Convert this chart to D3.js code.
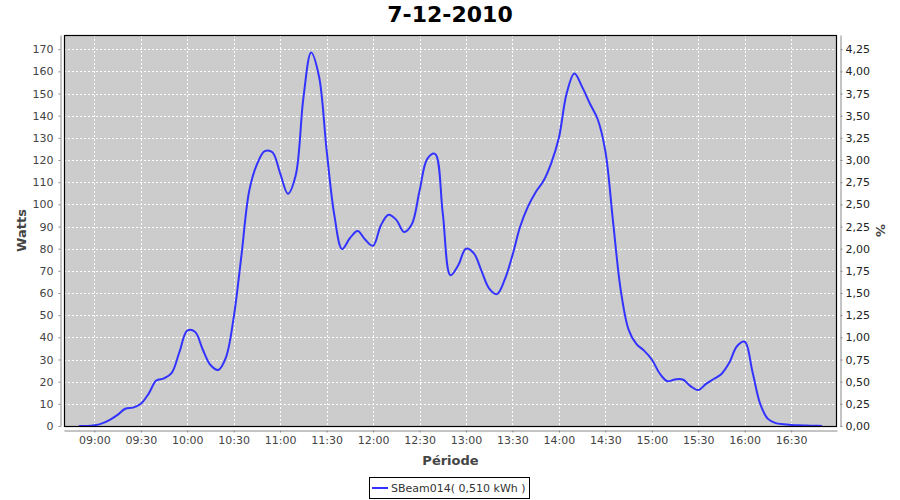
<!DOCTYPE html>
<html>
<head>
<meta charset="utf-8">
<script src="https://cdn.jsdelivr.net/npm/d3@7"></script>
<style>
  html, body { margin: 0; padding: 0; background: #ffffff; }
  svg { display: block; }
  text { font-family: "DejaVu Sans", sans-serif; }
</style>
</head>
<body>
<svg id="chart" width="900" height="500"></svg>
<script>
// ---- data ----
const title = "7-12-2010";
const seriesName = "SBeam014( 0,510 kWh )";
const yLabel = "Watts";
const y2Label = "%";
const xLabel = "Période";
const times = [
  "08:50","08:55","09:00","09:05","09:10","09:15","09:20","09:25","09:30","09:35",
  "09:40","09:45","09:50","09:55","10:00","10:05","10:10","10:15","10:20","10:25",
  "10:30","10:35","10:40","10:45","10:50","10:55","11:00","11:05","11:10","11:15",
  "11:20","11:25","11:30","11:35","11:40","11:45","11:50","11:55","12:00","12:05",
  "12:10","12:15","12:20","12:25","12:30","12:35","12:40","12:45","12:50","12:55",
  "13:00","13:05","13:10","13:15","13:20","13:25","13:30","13:35","13:40","13:45",
  "13:50","13:55","14:00","14:05","14:10","14:15","14:20","14:25","14:30","14:35",
  "14:40","14:45","14:50","14:55","15:00","15:05","15:10","15:15","15:20","15:25",
  "15:30","15:35","15:40","15:45","15:50","15:55","16:00","16:05","16:10","16:15",
  "16:20","16:25","16:30","16:35","16:40","16:45","16:50"
];
const watts = [
  0, 0, 0.3, 1.2, 2.8, 5, 7.8, 8.3, 10, 14.5,
  20.5, 21.5, 24, 33.5, 43, 42.5, 34.5, 27.5, 25.3, 31,
  49, 77, 106, 118, 124, 123.5, 114, 104.8, 113, 148,
  168.5, 158, 124.5, 95, 79.8, 84.7, 88, 84, 81.3, 90.5,
  95.3, 93, 87.5, 91, 106, 120.5, 122.8, 96, 68, 72.5,
  80, 78, 70, 62, 59.5, 66, 77, 90, 99, 105.5,
  110.5, 118.5, 130, 150, 159, 153, 145.5, 138.5, 124, 92,
  61, 43.5, 37, 34, 30, 23.8, 20.2, 21, 21, 18,
  16.2, 19, 21.2, 23.5, 28.5, 36, 38, 24.5, 10, 3.2,
  1.3, 0.8, 0.5, 0.3, 0.2, 0.1, 0
];
const xTickLabels = ["09:00","09:30","10:00","10:30","11:00","11:30","12:00","12:30",
  "13:00","13:30","14:00","14:30","15:00","15:30","16:00","16:30"];
const yTicks = [0,10,20,30,40,50,60,70,80,90,100,110,120,130,140,150,160,170];
const y2Ticks = [0,0.25,0.5,0.75,1,1.25,1.5,1.75,2,2.25,2.5,2.75,3,3.25,3.5,3.75,4,4.25];
const yMax = 176.4;          // axis upper bound (W)
const wattsPerPercent = 40;  // right axis ratio

// ---- layout ----
const svg = d3.select("#chart");
const L = 64, R = 837, T = 35, B = 426;
const toMin = s => { const [h, m] = s.split(":").map(Number); return h * 60 + m; };
const tMin = toMin(times[0]), tMax = toMin(times[times.length - 1]);
const pad = (tMax - tMin) * 0.02;

const x = d3.scaleLinear().domain([tMin - pad, tMax + pad]).range([L, R]);
const y = d3.scaleLinear().domain([0, yMax]).range([B, T]);
const y2 = d3.scaleLinear().domain([0, yMax / wattsPerPercent]).range([B, T]);

// title
svg.append("text").attr("x", 450).attr("y", 22).attr("text-anchor", "middle")
  .attr("font-size", 22).attr("font-weight", "bold").attr("fill", "#000").text(title);

// plot background
svg.append("rect").attr("x", L).attr("y", T).attr("width", R - L).attr("height", B - T)
  .attr("fill", "#cccccc");

// grid
const grid = svg.append("g");
grid.selectAll("line.h").data(yTicks).join("line")
  .attr("x1", L).attr("x2", R).attr("y1", d => Math.round(y(d)) + 0.5).attr("y2", d => Math.round(y(d)) + 0.5)
  .attr("stroke", "#fff").attr("stroke-dasharray", "2,2");
grid.selectAll("line.v").data(xTickLabels).join("line")
  .attr("y1", T).attr("y2", B).attr("x1", d => Math.round(x(toMin(d))) + 0.5).attr("x2", d => Math.round(x(toMin(d))) + 0.5)
  .attr("stroke", "#fff").attr("stroke-dasharray", "2,2");

// series
const pts = times.map((t, i) => [toMin(t), watts[i]]);
const line = d3.line().x(d => x(d[0])).y(d => y(d[1])).curve(d3.curveCatmullRom.alpha(0.5));
svg.append("path").attr("d", line(pts)).attr("fill", "none")
  .attr("stroke", "#3333ff").attr("stroke-width", 2);

// plot border
svg.append("rect").attr("x", L + 0.5).attr("y", T + 0.5).attr("width", R - L - 1).attr("height", B - T)
  .attr("fill", "none").attr("stroke", "#000").attr("stroke-width", 1.2);

// axes
const fmtInt = d3.format("d");
const fmt2 = v => d3.format(".2f")(v).replace(".", ",");
const axisStyle = g => {
  g.select(".domain").attr("stroke", "#888");
  g.selectAll(".tick line").attr("stroke", "#888");
  g.selectAll(".tick text").attr("fill", "#444").attr("font-size", 11)
    .attr("font-family", "DejaVu Sans, sans-serif");
};
svg.append("g").attr("transform", `translate(${L - 3.5},0)`)
  .call(d3.axisLeft(y).tickValues(yTicks).tickFormat(fmtInt).tickSize(2).tickSizeOuter(0).tickPadding(5))
  .call(axisStyle);
svg.append("g").attr("transform", `translate(${R + 3.5},0)`)
  .call(d3.axisRight(y2).tickValues(y2Ticks).tickFormat(fmt2).tickSize(2).tickSizeOuter(0).tickPadding(3))
  .call(axisStyle)
  .call(g => g.selectAll(".tick text").attr("fill", "#222"));
svg.append("g").attr("transform", `translate(0,${B + 4.5})`)
  .call(d3.axisBottom(x).tickValues(xTickLabels.map(toMin))
    .tickFormat((d, i) => xTickLabels[i]).tickSize(2).tickSizeOuter(0).tickPadding(4))
  .call(axisStyle);

// axis labels
svg.append("text").attr("transform", `translate(26,${(T + B) / 2}) rotate(-90)`)
  .attr("text-anchor", "middle").attr("font-size", 13).attr("font-weight", "bold")
  .attr("fill", "#444").text(yLabel);
svg.append("text").attr("transform", `translate(876,${(T + B) / 2}) rotate(90)`)
  .attr("text-anchor", "middle").attr("font-size", 13).attr("font-weight", "bold")
  .attr("fill", "#444").text(y2Label);
svg.append("text").attr("x", (L + R) / 2).attr("y", 465).attr("text-anchor", "middle")
  .attr("font-size", 13).attr("font-weight", "bold").attr("fill", "#444").text(xLabel);

// legend
const lg = svg.append("g");
lg.append("rect").attr("x", 369.5).attr("y", 477.5).attr("width", 160).attr("height", 21)
  .attr("fill", "#fff").attr("stroke", "#000");
lg.append("line").attr("x1", 372).attr("x2", 388).attr("y1", 488).attr("y2", 488)
  .attr("stroke", "#3333ff").attr("stroke-width", 2);
lg.append("text").attr("x", 391).attr("y", 492).attr("font-size", 11).attr("fill", "#333").text(seriesName);
</script>
</body>
</html>
